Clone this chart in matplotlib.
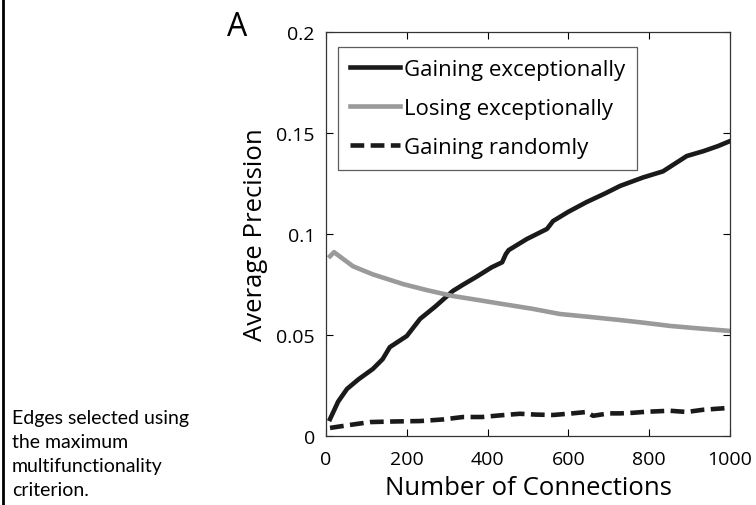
import matplotlib.pyplot as plt
from matplotlib.lines import Line2D

# values
gain_x = [10, 30, 52, 80, 116, 140, 158, 200, 233, 270, 314, 340, 374, 410, 436, 445, 452, 497, 547,
          562, 600, 645, 690, 728, 785, 834, 893, 934, 970, 1000]
gain_y = [0.0084, 0.017, 0.0233, 0.028, 0.0332, 0.038, 0.044, 0.0495, 0.058, 0.064, 0.0718, 0.075,
          0.079, 0.0835, 0.086, 0.090, 0.092, 0.0975, 0.1025, 0.1064, 0.111, 0.1158, 0.120, 0.1238,
          0.128, 0.131, 0.1386, 0.141, 0.1435, 0.146]

lose_x = [10, 20, 40, 67, 116, 191, 250, 314, 380, 438, 510, 579, 650, 728, 790, 851, 920, 1000]
lose_y = [0.089, 0.091, 0.088, 0.084, 0.080, 0.0752, 0.0722, 0.0693, 0.0672, 0.0653, 0.0630, 0.0604,
          0.0590, 0.0574, 0.0560, 0.0545, 0.0533, 0.052]

rand_x = [10, 60, 109, 170, 233, 290, 339, 386, 430, 480, 520, 562, 610, 645, 661, 700, 728, 760,
          793, 851, 893, 934, 983, 1000]
rand_y = [0.004, 0.0055, 0.0069, 0.0072, 0.0074, 0.0082, 0.0094, 0.0094, 0.0102, 0.011, 0.0106,
          0.0104, 0.0112, 0.0119, 0.010, 0.0112, 0.0112, 0.0115, 0.012, 0.0125, 0.0119, 0.013,
          0.0137, 0.014]

fig = plt.figure(figsize=(7.56, 5.06), dpi=100)
plt.rcParams['font.family'] = ['Open Sans', 'DejaVu Sans']

ax = fig.add_axes([326 / 756, 1 - 437 / 506, 404 / 756, 404 / 506])
ax.plot(gain_x, gain_y, color='#1a1a1a', lw=3.3, label='Gaining exceptionally')
ax.plot(lose_x, lose_y, color='#9a9a9a', lw=3.3, label='Losing exceptionally')
ax.plot(rand_x, rand_y, color='#1a1a1a', lw=3.3, ls=(0, (3.0, 1.4)), label='Gaining randomly')

ax.set_xlim(0, 1000)
ax.set_ylim(0, 0.2)
ax.set_xticks([0, 200, 400, 600, 800, 1000])
ax.set_yticks([0, 0.05, 0.1, 0.15, 0.2])
ax.set_yticklabels(['0', '0.05', '0.1', '0.15', '0.2'])
ax.tick_params(direction='in', top=True, right=True, labelsize=14, length=5)
ax.tick_params(axis='x', pad=10)
ax.tick_params(axis='y', pad=8)
for s in ax.spines.values():
    s.set_linewidth(0.9)
    s.set_color('#333333')
ax.set_xlabel('Number of Connections', fontsize=18.5, labelpad=5)
ax.set_ylabel('Average Precision', fontsize=18.5, labelpad=6)

leg = ax.legend(loc='upper left', bbox_to_anchor=(12 / 404, 1 - 15 / 404), fontsize=16,
                frameon=True, fancybox=False, handlelength=2.25, handletextpad=0.15,
                labelspacing=0.8, borderpad=0.55, borderaxespad=0)
leg.get_frame().set_edgecolor('#333333')
leg.get_frame().set_linewidth(0.9)

fig.text(227 / 756, 1 - 27 / 506, 'A', fontsize=23, ha='left', va='center')

fig.add_artist(Line2D([3 / 756, 3 / 756], [0, 1], color='black', lw=2))
fig.text(12 / 756, 1 - 410 / 506, 'Edges selected using\nthe maximum\nmultifunctionality\ncriterion.',
         fontsize=14, ha='left', va='top', linespacing=1.5, family=['Lato', 'DejaVu Sans'])

fig.savefig('out.png', dpi=100)
